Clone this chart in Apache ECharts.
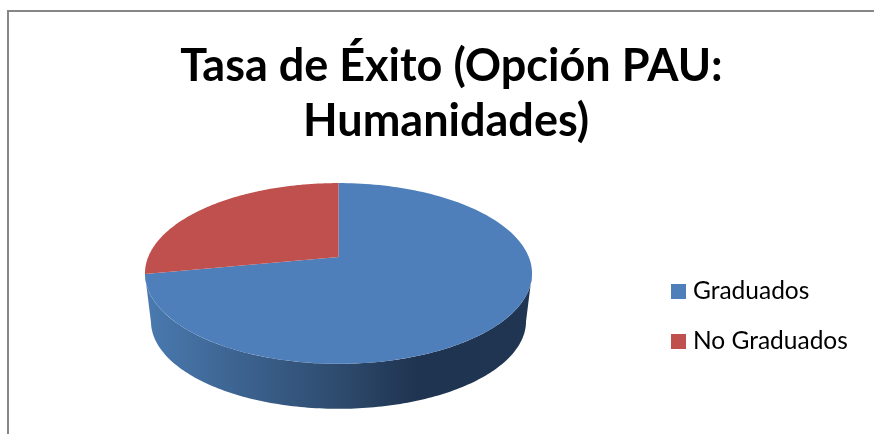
<!DOCTYPE html>
<html>
  <head>
    <meta charset="utf-8" />
    <title>Tasa de Éxito</title>
    <script src="https://cdnjs.cloudflare.com/ajax/libs/echarts/6.0.0/echarts.min.js"></script>
    <style>
      html, body { margin: 0; padding: 0; background: #fff; }
      #main { width: 874px; height: 434px; }
    </style>
  </head>
  <body>
    <div id="main"></div>
    <script type="text/javascript">
      var categories = ['Graduados', 'No Graduados'];
      var values = [72, 28];
      var colors = ['#4e7fbb', '#c0504d'];

      var total = values.reduce(function (a, b) { return a + b; }, 0);

      // tilted disc: c is the perspective factor, far side looks smaller
      var persp = 0.182;
      var radius = 190.3;
      var centerX = 338.5;
      var apexY = 257;
      var yScale = -40.6;
      var topMidY = 273.5;
      var baseMidY = 321.3;
      var baseScale = 0.969;

      // angle runs clockwise from twelve o'clock
      function topPoint(theta) {
        var w = 1 + persp * Math.cos(theta);
        return [centerX + radius * Math.sin(theta) / w, (yScale * Math.cos(theta) + apexY) / w];
      }
      function basePoint(theta) {
        var p = topPoint(theta);
        return [centerX + (p[0] - centerX) * baseScale, baseMidY + (p[1] - topMidY) * baseScale];
      }
      function arc(fn, from, to) {
        var pts = [];
        var steps = 160;
        for (var i = 0; i <= steps; i++) {
          pts.push(fn(from + (to - from) * i / steps));
        }
        return pts;
      }

      function sliceRenderer(index) {
        return function (params, api) {
          var before = 0;
          for (var i = 0; i < index; i++) before += values[i];
          var start = before / total * Math.PI * 2;
          var end = (before + api.value(0)) / total * Math.PI * 2;
          var children = [];

          // wall of the disc, only the part facing the viewer
          var right = Math.acos(-persp);
          var left = Math.PI * 2 - right;
          var from = Math.max(start, right);
          var to = Math.min(end, left);
          if (to > from) {
            var wall = arc(topPoint, from, to).concat(arc(basePoint, to, from));
            children.push({
              type: 'polygon',
              shape: { points: wall },
              style: {
                fill: new echarts.graphic.LinearGradient(0, 0, 1, 0, [
                  { offset: 0, color: '#4a7ab0' },
                  { offset: 0.5, color: '#2e4b6e' },
                  { offset: 0.7, color: '#1f3450' },
                  { offset: 1, color: '#203552' }
                ])
              }
            });
          }

          var face = [[centerX, apexY]].concat(arc(topPoint, start, end));
          children.push({
            type: 'polygon',
            shape: { points: face },
            style: { fill: colors[index] }
          });
          return { type: 'group', children: children };
        };
      }

      var chartDom = document.getElementById('main');
      var myChart = echarts.init(chartDom);

      var series = categories.map(function (name, i) {
        return {
          type: 'custom',
          name: name,
          coordinateSystem: 'none',
          silent: true,
          animation: false,
          itemStyle: { color: colors[i] },
          renderItem: sliceRenderer(i),
          data: [[values[i]]]
        };
      });

      myChart.setOption({
        animation: false,
        title: {
          text: 'Tasa de Éxito (Opción PAU:\nHumanidades) ',
          left: 446.5,
          top: 34,
          textAlign: 'center',
          textStyle: {
            fontFamily: 'Lato',
            fontWeight: 'bold',
            fontSize: 45,
            lineHeight: 55,
            color: '#000'
          }
        },
        legend: {
          orient: 'vertical',
          left: 671,
          top: 279,
          padding: 0,
          icon: 'rect',
          itemWidth: 15,
          itemHeight: 15,
          itemGap: 25,
          data: categories,
          selectedMode: false,
          textStyle: {
            fontFamily: 'Lato',
            fontSize: 24.5,
            lineHeight: 15,
            height: 15,
            color: '#000',
            padding: [0, 0, 0, 2]
          }
        },
        graphic: [
          { type: 'line', shape: { x1: 8, y1: 11, x2: 874, y2: 11 }, style: { stroke: '#868686', lineWidth: 2 } },
          { type: 'line', shape: { x1: 8, y1: 10, x2: 8, y2: 434 }, style: { stroke: '#868686', lineWidth: 2 } }
        ],
        series: series
      });
    </script>
  </body>
</html>
